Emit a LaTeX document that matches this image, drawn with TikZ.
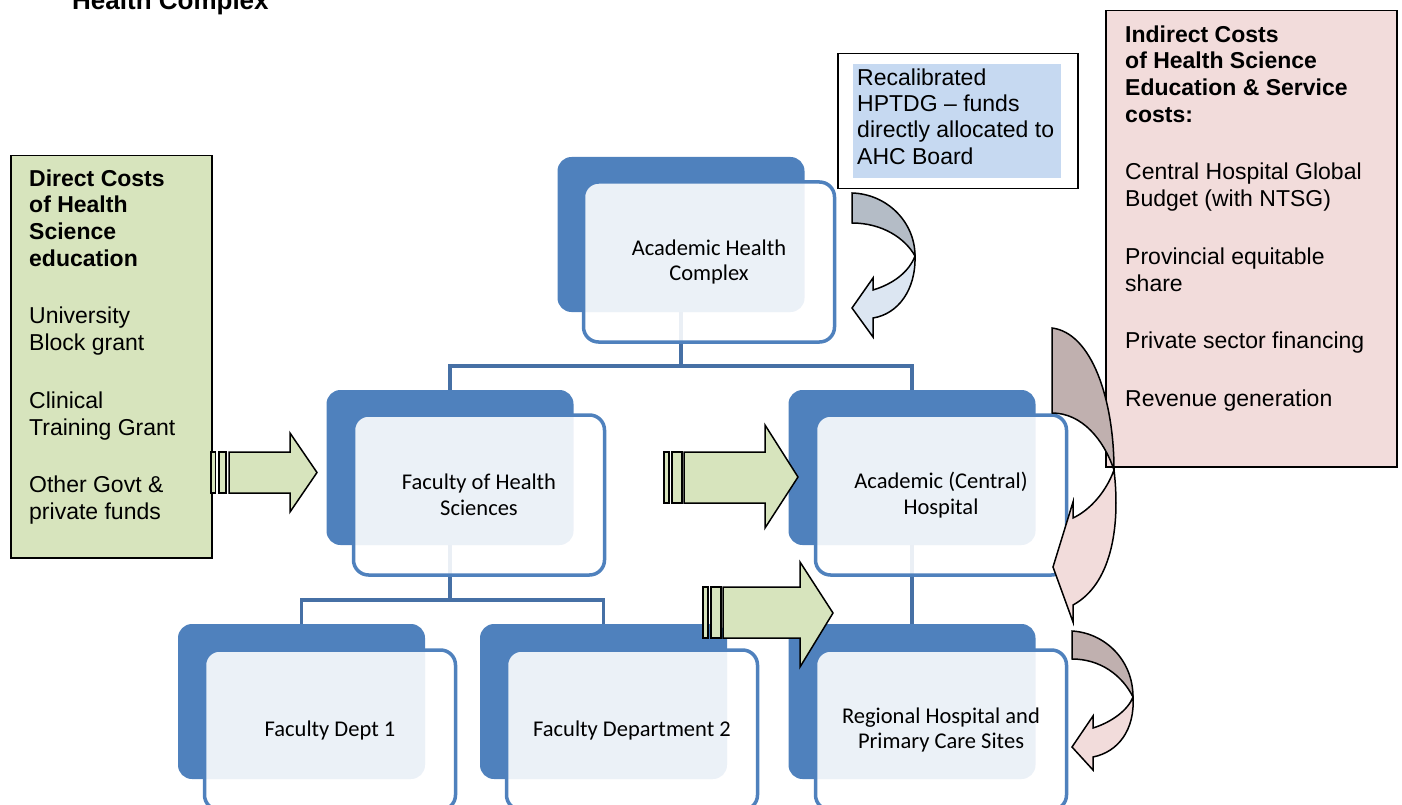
\documentclass[tikz,border=0pt]{standalone}
\usepackage{fontspec}
\setmainfont{Liberation Sans}
\newfontfamily\calfont{Carlito}
\definecolor{dkblue}{RGB}{79,129,189}
\definecolor{lnblue}{RGB}{70,112,165}
\definecolor{arrgreen}{RGB}{215,228,189}
\definecolor{boxgreen}{RGB}{215,228,189}
\definecolor{boxpink}{RGB}{242,220,219}
\definecolor{recalblue}{RGB}{198,217,241}
\definecolor{cgrayA}{RGB}{180,188,198}
\definecolor{clightA}{RGB}{220,230,242}
\definecolor{cgrayB}{RGB}{192,176,175}
\definecolor{clightB}{RGB}{242,220,219}
\begin{document}
\begin{tikzpicture}[x=1pt,y=-1pt,
  darkbox/.style={fill=dkblue, rounded corners=14pt, minimum width=247pt, minimum height=155pt, inner sep=0pt},
  frontbox/.style={draw=dkblue, line width=3.5pt, fill=white, fill opacity=0.89, text opacity=1, rounded corners=15pt, minimum width=251pt, minimum height=160pt, inner sep=0pt, align=center, font=\calfont\fontsize{22.5}{25.5}\selectfont},
  link/.style={draw=lnblue, line width=3.5pt},
  blockarrow/.style={draw=black, line width=1.5pt, fill=arrgreen, line join=miter},
  curvearrow/.style={draw=black, line width=1.5pt, line join=miter},
  infobox/.style={draw=black, line width=1.5pt, inner sep=0pt, anchor=north west},
  txt/.style={inner sep=0pt, anchor=north west, align=left, font=\fontsize{23}{26.7}\selectfont}
]
\clip (0,0) rectangle (1402,805);

% title (partially cut off at the top)
\node[anchor=base west, inner sep=0pt, font=\bfseries\fontsize{26}{30}\selectfont] (title) at (72,10) {Health Complex};

% dark back boxes
\node[darkbox] (ahcd) at (681,234.5) {};
\node[darkbox] (fhsd) at (450,467.5) {};
\node[darkbox] (achd) at (912,467.5) {};
\node[darkbox] (d1d)  at (301.5,701.5) {};
\node[darkbox] (d2d)  at (603.5,701.5) {};
\node[darkbox] (regd) at (912,701.5) {};

% connectors
\draw[link] (ahcd.south) -- ++(0,54) coordinate (busA) -| (fhsd.north);
\draw[link] (busA) -| (achd.north);
\draw[link] (fhsd.south) -- ++(0,55) coordinate (busB) -| (d1d.north);
\draw[link] (busB) -| (d2d.north);
\draw[link] (achd.south) -- (regd.north);

% front boxes with labels
\node[frontbox] (ahc) at (709,262) {Academic Health\\Complex};
\node[frontbox] (fhs) at (479,495) {Faculty of Health\\Sciences};
\node[frontbox] (ach) at (941,495) {Academic (Central)\\Hospital};
\node[frontbox] (d1)  at (330,730) {Faculty Dept 1};
\node[frontbox] (d2)  at (632,730) {Faculty Department 2};
\node[frontbox] (reg) at (941,730) {Regional Hospital and\\Primary Care Sites};

% left green box
\node[infobox, fill=boxgreen, minimum width=201pt, minimum height=402pt] (green) at (10,155) {};
\node[txt] (greentext) at (29,167.3) {\strut\textbf{Direct Costs}\\\textbf{of Health}\\\textbf{Science}\\\textbf{education}\\[31pt]
University\\Block grant\\[31pt]
Clinical\\Training Grant\\[31pt]
Other Govt \&\\private funds};

% recalibrated box
\node[infobox, fill=white, minimum width=240pt, minimum height=135pt] (recal) at (837,53) {};
\fill[recalblue] (853,64) rectangle (1061,178);
\node[txt, font=\fontsize{23}{26.3}\selectfont] (recaltext) at (857,66.6) {\strut Recalibrated\\HPTDG – funds\\directly allocated to\\AHC Board};

% right pink box
\node[infobox, fill=boxpink, minimum width=291pt, minimum height=456pt] (pink) at (1105,10) {};
\node[txt] (pinktext) at (1125,23.3) {\strut\textbf{Indirect Costs}\\\textbf{of Health Science}\\\textbf{Education \& Service}\\\textbf{costs:}\\[31pt]
Central Hospital Global\\Budget (with NTSG)\\[31pt]
Provincial equitable\\share\\[31pt]
Private sector financing\\[31pt]
Revenue generation};

% striped block arrows
\filldraw[blockarrow] (211,452) rectangle (215.5,493);
\filldraw[blockarrow] (219,452) rectangle (226,493);
\filldraw[blockarrow] (229,452) -- (290,452) -- (290,433) -- (317,472.5) -- (290,512) -- (290,493) -- (229,493) -- cycle;

\filldraw[blockarrow] (664,452) rectangle (669,503);
\filldraw[blockarrow] (672,452) rectangle (682,503);
\filldraw[blockarrow] (684,452) -- (765,452) -- (765,425) -- (798,477) -- (765,528) -- (765,503) -- (684,503) -- cycle;

\filldraw[blockarrow] (703,587) rectangle (708,638);
\filldraw[blockarrow] (711,587) rectangle (721,638);
\filldraw[blockarrow] (723,587) -- (800,587) -- (800,562) -- (833,613) -- (800,667) -- (800,638) -- (723,638) -- cycle;

% curved arrow near AHC
\filldraw[curvearrow, fill=clightA] (915,256) .. controls (916,290) and (898,314) .. (873,318) -- (873,337) -- (852,308) -- (873,278) -- (873,290) .. controls (893,284) and (909,272) .. (915,256) -- cycle;
\filldraw[curvearrow, fill=cgrayA] (852,193) .. controls (887,194) and (915,222) .. (915,256) .. controls (905,238) and (882,223) .. (852,223) -- cycle;

% big curved arrow near pink box
\filldraw[curvearrow, fill=clightB] (1114,470) .. controls (1121,530) and (1110,585) .. (1073,605) -- (1073,622) -- (1053,567) -- (1073,502) -- (1073,518) .. controls (1090,510) and (1106,492) .. (1114,470) -- cycle;
\filldraw[curvearrow, fill=cgrayB] (1052,328) .. controls (1092,333) and (1114,400) .. (1114,470) .. controls (1104,440) and (1082,413) .. (1052,413) -- cycle;

% curved arrow near regional
\filldraw[curvearrow, fill=clightB] (1133,697) .. controls (1135,730) and (1118,752) .. (1093,757) -- (1093,770) -- (1072,747) -- (1093,716) -- (1093,728) .. controls (1112,722) and (1128,710) .. (1133,697) -- cycle;
\filldraw[curvearrow, fill=cgrayB] (1072,631) .. controls (1105,633) and (1133,660) .. (1133,697) .. controls (1122,675) and (1100,659) .. (1072,659) -- cycle;
\end{tikzpicture}
\end{document}
